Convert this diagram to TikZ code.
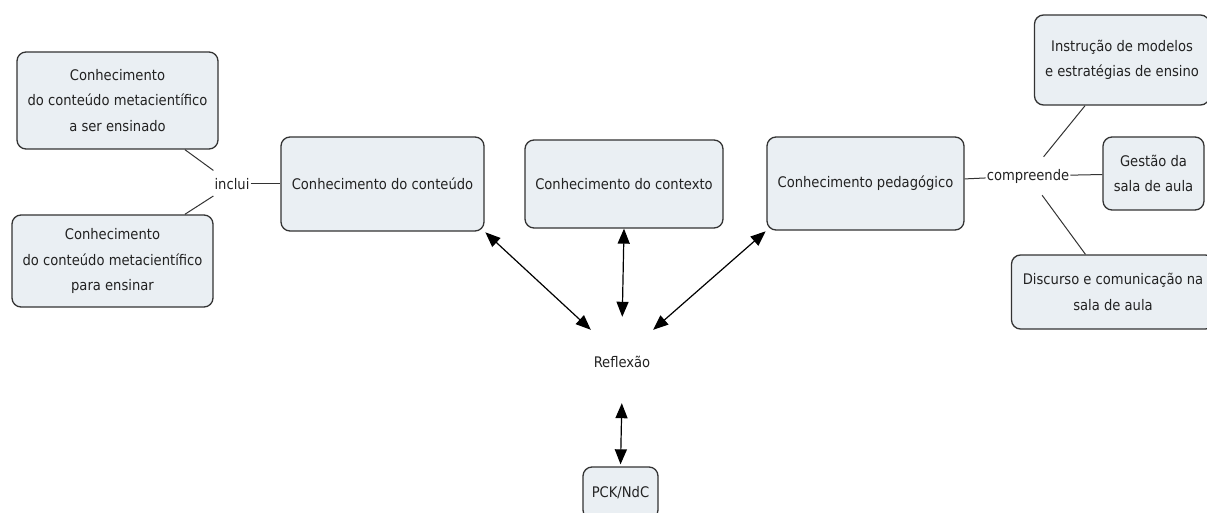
\documentclass[tikz,border=0pt]{standalone}
\usepackage{fontspec}
\setmainfont{DejaVu Sans Condensed}
\usetikzlibrary{arrows.meta}
\definecolor{caixa}{HTML}{EAEFF3}
\definecolor{borda}{HTML}{333333}
\definecolor{texto}{HTML}{222222}
\begin{document}
\fontsize{14.6}{25.5}\selectfont
\begin{tikzpicture}[x=1pt,y=-1pt,
  conceito/.style={draw=borda,line width=1.3pt,fill=caixa,rounded corners=9pt,
    align=center,text=texto,inner sep=0pt},
  ligacao/.style={text=texto,inner xsep=1pt,inner ysep=12pt},
  liga/.style={draw=borda,line width=1pt},
  seta/.style={draw=black,line width=1.2pt,{Triangle[length=15pt,width=12pt]}-{Triangle[length=15pt,width=12pt]}}]
  \clip (0,0) rectangle (1207,513);
  \node[conceito,minimum width=201pt,minimum height=97pt] (ensinado) at (117.5,100.5)
    {Conhecimento\\do conteúdo metacientífico\\a ser ensinado};
  \node[conceito,minimum width=201pt,minimum height=92pt] (ensinar) at (112.5,261)
    {Conhecimento\\do conteúdo metacientífico\\para ensinar};
  \node[conceito,minimum width=203pt,minimum height=94pt] (conteudo) at (382.5,184) {Conhecimento do conteúdo};
  \node[conceito,minimum width=198pt,minimum height=88pt] (contexto) at (624,184) {Conhecimento do contexto};
  \node[conceito,minimum width=197pt,minimum height=93pt] (pedagogico) at (865.5,183.5) {Conhecimento pedagógico};
  \node[conceito,minimum width=175pt,minimum height=90pt] (modelos) at (1122,60)
    {Instrução de modelos\\e estratégias de ensino};
  \node[conceito,minimum width=101pt,minimum height=73pt] (gestao) at (1153.5,173.5) {Gestão da\\sala de aula};
  \node[conceito,minimum width=203pt,minimum height=74pt] (discurso) at (1113,292)
    {Discurso e comunicação na\\sala de aula};
  \node[conceito,minimum width=75pt,minimum height=52pt] (pck) at (620.5,493) {PCK/NdC};
  \node[ligacao] (inclui) at (232,184) {inclui};
  \node[ligacao] (compreende) at (1028,176) {compreende};
  \node[text=texto,minimum width=62pt,minimum height=64pt,inner sep=0pt] (reflexao) at (622,362) {Reflexão};
  \foreach \a/\b in {ensinado/inclui,ensinar/inclui,inclui/conteudo,pedagogico/compreende,
    compreende/modelos,compreende/gestao,compreende/discurso}
    \draw[liga] (\a) -- (\b);
  \draw[seta,shorten <=1pt] (conteudo.south east) -- (reflexao.north west);
  \draw[seta,shorten >=13pt] (contexto.south) -- (reflexao.north);
  \draw[seta,shorten <=1pt] (pedagogico.south west) -- (reflexao.north east);
  \draw[seta,shorten <=9pt,shorten >=2pt] (reflexao.south) -- (pck.north);
\end{tikzpicture}
\end{document}
